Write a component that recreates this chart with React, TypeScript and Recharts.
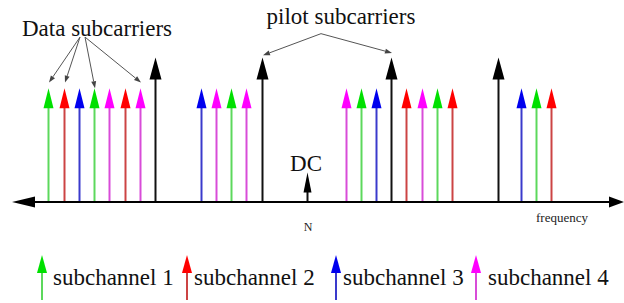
import {
  ComposedChart,
  Bar,
  XAxis,
  YAxis,
  ReferenceLine,
  ReferenceDot,
  Legend,
} from 'recharts';

// subcarrier positions along the frequency axis
const subcarrierFreq = [
  49, 65, 80, 95, 110, 126, 141, 156,
  202, 217, 232, 247, 263,
  308,
  347, 362, 377, 392, 407, 423, 438, 453,
  499, 522, 537, 552,
];
// 1..4 = subchannel, 'P' = pilot, 'DC' = dc carrier
const subcarrierKind: (number | string)[] = [
  1, 2, 3, 1, 4, 2, 4, 'P',
  3, 4, 1, 4, 'P',
  'DC',
  4, 1, 3, 'P', 2, 4, 1, 2,
  'P', 3, 1, 2,
];
const DATA_AMP = 1;
const PILOT_AMP = 1.27;
const DC_AMP = 0.26;

const channelNames = ['subchannel 1', 'subchannel 2', 'subchannel 3', 'subchannel 4'];
const channelHead = ['#00e000', '#ff0000', '#0000ee', '#ff00ff'];
const channelStem = ['#5cd85c', '#cc4444', '#3a3acc', '#d84cd8'];

// annotations
const dataLabel = { text: 'Data subcarriers', f: 97, amp: 1.535 };
const dataPointerFrom = [[80, 1.45], [80, 1.45], [85, 1.45], [85, 1.45]];
const dataPointerTarget = [0, 1, 3, 6];
const dataPointerGap = [0.05, 0.05, 0, 0.05];
const pilotLabel = { text: 'pilot subcarriers', f: 341, amp: 1.64 };
const pilotPointerFrom = [[321, 1.48], [321, 1.48]];
const pilotPointerTarget = [12, 17];
const pilotPointerGap = [0.02, 0.04];

const ampOf = (k: number | string) => (k === 'P' ? PILOT_AMP : k === 'DC' ? DC_AMP : DATA_AMP);

const chartData = subcarrierFreq.map((f, i) => ({
  f,
  kind: subcarrierKind[i],
  amp: ampOf(subcarrierKind[i]),
}));

const FONT = '"Liberation Serif", "Times New Roman", serif';

function SubcarrierArrow(props: any) {
  const { x, y, width, height, payload } = props;
  const cx = x + width / 2;
  const base = y + height;
  const k = payload.kind;
  let head = '#000';
  let stem = '#111';
  let hw = 5;
  let hh = 20;
  if (typeof k === 'number') {
    head = channelHead[k - 1];
    stem = channelStem[k - 1];
  } else if (k === 'P') {
    hw = 6;
    hh = 22;
  } else {
    hw = 4;
    hh = 20;
  }
  return (
    <g>
      <line x1={cx} x2={cx} y1={base} y2={y + hh - 1} stroke={stem} strokeWidth={2} />
      <polygon points={`${cx},${y} ${cx - hw},${y + hh} ${cx + hw},${y + hh}`} fill={head} />
    </g>
  );
}

function AxisArrow(props: any) {
  const { x1, y1, x2 } = props;
  return (
    <g>
      <line x1={x1 + 10} x2={x2 - 8} y1={y1} y2={y1} stroke="#000" strokeWidth={2} />
      <polygon points={`${x1},${y1} ${x1 + 23},${y1 - 5.5} ${x1 + 23},${y1 + 5.5}`} fill="#000" />
      <polygon points={`${x2},${y1} ${x2 - 15},${y1 - 5.5} ${x2 - 15},${y1 + 5.5}`} fill="#000" />
    </g>
  );
}

function Pointer(props: any) {
  const { x1, y1, x2, y2 } = props;
  const dx = x2 - x1;
  const dy = y2 - y1;
  const len = Math.sqrt(dx * dx + dy * dy) || 1;
  const ux = dx / len;
  const uy = dy / len;
  const bx = x2 - ux * 7;
  const by = y2 - uy * 7;
  return (
    <g>
      <line x1={x1} y1={y1} x2={bx} y2={by} stroke="#555" strokeWidth={1} />
      <polygon
        points={`${x2},${y2} ${bx - uy * 2.5},${by + ux * 2.5} ${bx + uy * 2.5},${by - ux * 2.5}`}
        fill="#444"
      />
    </g>
  );
}

const legendArrowX = [42, 187, 336, 476];
const legendTextX = [53, 194, 343, 488];

const renderLegend = () => (
  <div style={{ position: 'relative', width: 624, height: 51, fontFamily: FONT, fontSize: 23, color: '#111' }}>
    {channelNames.map((name, i) => (
      <div key={name}>
        <svg
          width={12}
          height={51}
          style={{ position: 'absolute', left: legendArrowX[i] - 6, top: 0 }}
        >
          <line x1={6} x2={6} y1={20} y2={48} stroke={channelStem[i]} strokeWidth={2} />
          <polygon points="6,3 1,21 11,21" fill={channelHead[i]} />
        </svg>
        <span style={{ position: 'absolute', left: legendTextX[i], top: 14, lineHeight: 1, whiteSpace: 'nowrap' }}>
          {name}
        </span>
      </div>
    ))}
  </div>
);

const frequencyLabel = (props: any) => {
  const { viewBox } = props;
  return (
    <text
      x={viewBox.x + viewBox.width - 36}
      y={viewBox.y + 20}
      textAnchor="end"
      fontFamily={FONT}
      fontSize={13}
      fill="#222"
    >
      frequency
    </text>
  );
};

const bigLabel = { fontSize: 23, fill: '#111', fontFamily: FONT };

export default function App() {
  const pointers = [
    ...dataPointerFrom.map((from, i) => ({
      from,
      to: [subcarrierFreq[dataPointerTarget[i]], ampOf(subcarrierKind[dataPointerTarget[i]]) + dataPointerGap[i]],
    })),
    ...pilotPointerFrom.map((from, i) => ({
      from,
      to: [subcarrierFreq[pilotPointerTarget[i]], ampOf(subcarrierKind[pilotPointerTarget[i]]) + pilotPointerGap[i]],
    })),
  ];
  const dcFreq = subcarrierFreq[subcarrierKind.indexOf('DC')];

  return (
    <div style={{ position: 'absolute', left: 0, top: 0, width: 624, height: 303, background: '#fff' }}>
      <ComposedChart
        width={624}
        height={303}
        data={chartData}
        margin={{ top: 0, right: 0, bottom: 0, left: 12 }}
      >
        <XAxis
          dataKey="f"
          type="number"
          domain={[12, 624]}
          ticks={[dcFreq]}
          tickFormatter={() => 'N'}
          tickLine={false}
          axisLine={false}
          tickSize={0}
          tickMargin={20}
          height={50}
          tick={{ fontSize: 12, fill: '#222', fontFamily: FONT }}
          label={frequencyLabel}
        />
        <YAxis hide type="number" domain={[0, 1.776]} />
        <ReferenceLine y={0} shape={AxisArrow} ifOverflow="visible" />
        <Bar dataKey="amp" barSize={12} shape={SubcarrierArrow} isAnimationActive={false} />
        {pointers.map((p, i) => (
          <ReferenceLine
            key={`ptr-${i}`}
            segment={[
              { x: p.from[0], y: p.from[1] },
              { x: p.to[0], y: p.to[1] },
            ]}
            shape={Pointer}
            ifOverflow="visible"
          />
        ))}
        <ReferenceDot
          x={dataLabel.f}
          y={dataLabel.amp}
          r={0}
          fill="none"
          stroke="none"
          label={{ value: dataLabel.text, position: 'center', ...bigLabel }}
        />
        <ReferenceDot
          x={pilotLabel.f}
          y={pilotLabel.amp}
          r={0}
          fill="none"
          stroke="none"
          label={{ value: pilotLabel.text, position: 'center', ...bigLabel }}
        />
        <ReferenceDot
          x={dcFreq - 2}
          y={DC_AMP + 0.08}
          r={0}
          fill="none"
          stroke="none"
          label={{ value: 'DC', position: 'center', ...bigLabel }}
        />
        <Legend
          verticalAlign="bottom"
          height={51}
          content={renderLegend}
          wrapperStyle={{ left: 0, width: 624 }}
        />
      </ComposedChart>
    </div>
  );
}
